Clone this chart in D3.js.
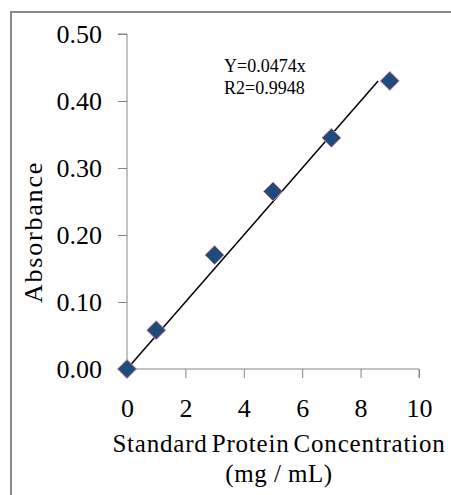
<!DOCTYPE html>
<html>
<head>
<meta charset="utf-8">
<script src="https://cdn.jsdelivr.net/npm/d3@7"></script>
<style>
  body { margin: 0; background: #fff; }
  text { font-family: "Liberation Serif", "Times New Roman", serif; fill: #000; }
</style>
</head>
<body>
<div id="chart"></div>
<script>
// standard curve readings
var concentration = [0, 1, 3, 5, 7, 9];
var absorbance = [0.0, 0.058, 0.17, 0.265, 0.345, 0.43];
var trendX = [0, 8.6];
var trendY = [0, 0.43];
var xTicks = [0, 2, 4, 6, 8, 10];
var yTicks = [0, 0.1, 0.2, 0.3, 0.4, 0.5];
var equationLines = ["Y=0.0474x", "R2=0.9948"];

var width = 451,
  height = 495;

var svg = d3.select("#chart").append("svg")
  .attr("width", width)
  .attr("height", height);

// outer frame (cut by the right and bottom edges)
svg.append("rect")
  .attr("x", 11)
  .attr("y", 12)
  .attr("width", 460)
  .attr("height", 500)
  .style("fill", "none")
  .style("stroke", "#8a8a8a")
  .style("stroke-width", 2);

var x = d3.scaleLinear().domain([0, 10]).range([127, 419]);
var y = d3.scaleLinear().domain([0, 0.5]).range([369, 34]);

var axisColor = "#868686";
var fontSize = "26px";

// y axis
var yAxis = svg.append("g")
  .attr("transform", "translate(" + x(0) + ",0)")
  .call(d3.axisLeft(y).tickValues(yTicks).tickSize(9).tickPadding(16)
    .tickFormat(d3.format(".2f")));
yAxis.select(".domain").attr("stroke", axisColor).attr("d", "M-9," + y(0.5) + "H0V" + y(0));
yAxis.selectAll(".tick line").attr("stroke", axisColor);
yAxis.selectAll(".tick text").style("font-size", fontSize).attr("font-family", null);

// x axis
var xAxis = svg.append("g")
  .attr("transform", "translate(0," + y(0) + ")")
  .call(d3.axisBottom(x).tickValues(xTicks).tickSize(9).tickPadding(21));
xAxis.select(".domain").attr("stroke", axisColor).attr("d", "M" + x(0) + ",0H" + x(10) + "V9");
xAxis.selectAll(".tick line").attr("stroke", axisColor);
xAxis.selectAll(".tick text").style("font-size", fontSize).attr("font-family", null);

// axis titles
svg.append("text")
  .attr("transform", "translate(42,232) rotate(-90)")
  .style("text-anchor", "middle")
  .style("font-size", fontSize)
  .style("letter-spacing", "1.8px")
  .text("Absorbance");

svg.append("text")
  .attr("x", 279)
  .attr("y", 452)
  .style("text-anchor", "middle")
  .style("font-size", "25px")
  .style("letter-spacing", "0.8px")
  .style("word-spacing", "-3px")
  .text("Standard Protein Concentration");

svg.append("text")
  .attr("x", 279)
  .attr("y", 482)
  .style("text-anchor", "middle")
  .style("font-size", "25px")
  .style("letter-spacing", "0.5px")
  .text("(mg / mL)");

// trend line
var line = d3.line()
  .x(function(d) { return x(d[0]); })
  .y(function(d) { return y(d[1]); });

svg.append("path")
  .datum(d3.zip(trendX, trendY))
  .attr("d", line)
  .style("fill", "none")
  .style("stroke", "#000")
  .style("stroke-width", 1.5);

// diamond markers
var r = 9.5;
svg.selectAll("path.pt")
  .data(d3.zip(concentration, absorbance))
  .enter()
  .append("path")
  .attr("class", "pt")
  .attr("d", function(d) {
    var cx = x(d[0]), cy = y(d[1]);
    return "M" + cx + "," + (cy - r) + "L" + (cx + r) + "," + cy +
      "L" + cx + "," + (cy + r) + "L" + (cx - r) + "," + cy + "Z";
  })
  .style("fill", "#1f4a7c")
  .style("stroke", "#d88a9a")
  .style("stroke-width", 1);

// equation
svg.selectAll("text.eq")
  .data(equationLines)
  .enter()
  .append("text")
  .attr("class", "eq")
  .attr("x", 224)
  .attr("y", function(d, i) { return 72 + i * 22; })
  .style("font-size", "18px")
  .text(function(d) { return d; });
</script>
</body>
</html>
